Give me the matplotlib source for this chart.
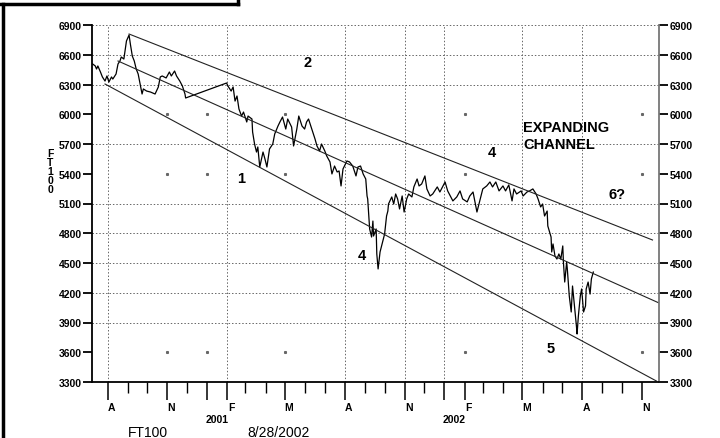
import numpy as np
import pandas as pd
import matplotlib
matplotlib.use("Agg")
import matplotlib.pyplot as plt
import matplotlib.dates as mdates
import matplotlib.transforms as mtrans
from matplotlib.lines import Line2D

plt.rcParams['font.family'] = ['Liberation Sans', 'DejaVu Sans']

# FT100 closes
dates = [
    "2000-07-09", "2000-07-13", "2000-07-15", "2000-07-17", "2000-07-21", "2000-07-24", "2000-07-28",
    "2000-07-31", "2000-08-03", "2000-08-07", "2000-08-09", "2000-08-14", "2000-08-17", "2000-08-20",
    "2000-08-22", "2000-08-26", "2000-08-30", "2000-09-03", "2000-09-05", "2000-09-08", "2000-09-11",
    "2000-09-14", "2000-09-17", "2000-09-20", "2000-09-23", "2000-09-25", "2000-09-30", "2000-10-06",
    "2000-10-13", "2000-10-18", "2000-10-21", "2000-10-24", "2000-10-30", "2000-11-04", "2000-11-07",
    "2000-11-12", "2000-11-15", "2000-11-20", "2000-11-24", "2000-11-28", "2000-11-29",
    "2001-01-31", "2001-02-02", "2001-02-07", "2001-02-10", "2001-02-13", "2001-02-16", "2001-02-19",
    "2001-02-23", "2001-02-26", "2001-03-03", "2001-03-05", "2001-03-11", "2001-03-12", "2001-03-15",
    "2001-03-18", "2001-03-20", "2001-03-23", "2001-03-28", "2001-03-31", "2001-04-03", "2001-04-07",
    "2001-04-12", "2001-04-15", "2001-04-20", "2001-04-23", "2001-04-27", "2001-05-02", "2001-05-05",
    "2001-05-11", "2001-05-14", "2001-05-19", "2001-05-22", "2001-05-27", "2001-05-31", "2001-06-03",
    "2001-06-06", "2001-06-11", "2001-06-16", "2001-06-19", "2001-06-23", "2001-06-26", "2001-07-01",
    "2001-07-04", "2001-07-09", "2001-07-12", "2001-07-16", "2001-07-20", "2001-07-23", "2001-07-26",
    "2001-07-29", "2001-08-04", "2001-08-08", "2001-08-13", "2001-08-18", "2001-08-21", "2001-08-25",
    "2001-08-29", "2001-09-02", "2001-09-04", "2001-09-05", "2001-09-08", "2001-09-11", "2001-09-13",
    "2001-09-14", "2001-09-18", "2001-09-19", "2001-09-21", "2001-09-24", "2001-09-28", "2001-10-01",
    "2001-10-04", "2001-10-06", "2001-10-07", "2001-10-12", "2001-10-15", "2001-10-18", "2001-10-21",
    "2001-10-24", "2001-10-28", "2001-10-31", "2001-11-04", "2001-11-07", "2001-11-12", "2001-11-15",
    "2001-11-20", "2001-11-23", "2001-11-27", "2001-12-02", "2001-12-05", "2001-12-10", "2001-12-14",
    "2001-12-21", "2001-12-25", "2002-01-02", "2002-01-06", "2002-01-14", "2002-01-20", "2002-01-25",
    "2002-01-29", "2002-02-05", "2002-02-09", "2002-02-14", "2002-02-20", "2002-02-25", "2002-03-01",
    "2002-03-07", "2002-03-12", "2002-03-16", "2002-03-21", "2002-03-26", "2002-04-01", "2002-04-05",
    "2002-04-10", "2002-04-15", "2002-04-18", "2002-04-22", "2002-04-29", "2002-05-02", "2002-05-08",
    "2002-05-12", "2002-05-17", "2002-05-22", "2002-05-25", "2002-05-29", "2002-06-01", "2002-06-04",
    "2002-06-08", "2002-06-09", "2002-06-14", "2002-06-15", "2002-06-17", "2002-06-20", "2002-06-23",
    "2002-06-26", "2002-06-29", "2002-07-02", "2002-07-03", "2002-07-05", "2002-07-08", "2002-07-09",
    "2002-07-12", "2002-07-15", "2002-07-17", "2002-07-20", "2002-07-23", "2002-07-24", "2002-07-26",
    "2002-07-29", "2002-07-31", "2002-08-03", "2002-08-06", "2002-08-07", "2002-08-10", "2002-08-13",
    "2002-08-15", "2002-08-18",
]
closes = [
    6507, 6487, 6456, 6487, 6426, 6376, 6335,
    6386, 6325, 6376, 6355, 6406, 6507, 6537,
    6577, 6557, 6739, 6799, 6708, 6587, 6537,
    6456, 6406, 6305, 6204, 6255, 6234, 6224,
    6204, 6275, 6376, 6386, 6366, 6426, 6386,
    6436, 6386, 6335, 6285, 6204, 6164,
    6315, 6285, 6234, 6275, 6133, 6184, 6053,
    5982, 6022, 5922, 5982, 5952, 5821, 5700,
    5619, 5670, 5468, 5619, 5549, 5468, 5650,
    5700, 5801, 5881, 5922, 5972, 5851, 5952,
    5871, 5680, 5851, 5982, 5881, 5851, 5922,
    5952, 5851, 5750, 5680, 5630, 5700, 5630,
    5579, 5519, 5398, 5478, 5418, 5428, 5277,
    5448, 5529, 5519, 5478, 5378, 5468, 5478,
    5398, 5347, 5176, 5146, 4843, 4762, 4923,
    4772, 4843, 4591, 4440, 4611, 4712, 4792,
    4974, 5024, 5095, 5166, 5095, 5196, 5146,
    5045, 5176, 5014, 5146, 5196, 5166, 5267,
    5347, 5277, 5297, 5378, 5247, 5176, 5196,
    5267, 5216, 5317, 5227, 5126, 5166, 5227,
    5146, 5116, 5176, 5216, 5014, 5146, 5247,
    5277, 5317, 5267, 5317, 5227, 5277, 5227,
    5287, 5126, 5247, 5196, 5227, 5176, 5216,
    5227, 5247, 5196, 5146, 5065, 5095, 4974,
    5024, 4873, 4762, 4611, 4692, 4571, 4540,
    4591, 4540, 4672, 4510, 4308, 4510, 4440,
    4168, 4006, 4268, 4067, 3865, 3784, 3966,
    4168, 4238, 4006, 4067, 4238, 4308, 4187,
    4339, 4409,
]

# channel lines (start date, start value, end date, end value)
upper_line = ["2000-09-03", 6809, "2002-11-17", 4732]
middle_line = ["2000-08-17", 6537, "2002-11-27", 4097]
lower_line = ["2000-07-28", 6305, "2002-11-23", 3310]

yticks = [3300, 3600, 3900, 4200, 4500, 4800, 5100, 5400, 5700, 6000, 6300, 6600, 6900]
grid_y = [3900, 4200, 4500, 4800, 5100, 5700, 6300, 6600, 6900]
sparse_y = [3600, 5400, 6000]
grid_x = ["2000-08-01", "2001-02-01", "2001-08-01", "2001-11-01", "2002-01-01", "2002-05-01", "2002-08-01"]
sparse_x = ["2000-11-01", "2001-01-01", "2001-05-01", "2002-02-01", "2002-11-01"]
quarter_ticks = ["2000-08-01", "2000-11-01", "2001-02-01", "2001-05-01", "2001-08-01",
                 "2001-11-01", "2002-02-01", "2002-05-01", "2002-08-01", "2002-11-01"]
quarter_labels = ["A", "N", "F", "M", "A", "N", "F", "M", "A", "N"]
year_ticks = ["2001-01-01", "2002-01-01"]
year_labels = ["2001", "2002"]

notes = [
    ("2", "2001-06-05", 6527),
    ("1", "2001-02-22", 5357),
    ("4", "2001-08-27", 4581),
    ("4", "2002-03-15", 5619),
    ("6?", "2002-09-24", 5196),
    ("5", "2002-06-14", 3643),
]

fig = plt.figure(figsize=(7.2, 4.39), dpi=100)
ax = fig.add_axes([92 / 720, 1 - 383 / 439, (659 - 92) / 720, (383 - 26) / 439])

d = pd.to_datetime(dates)
ax.plot(d, closes, color='black', lw=0.9)

for ln in (upper_line, middle_line, lower_line):
    ax.plot(pd.to_datetime([ln[0], ln[2]]), [ln[1], ln[3]], color='#222222', lw=0.8)

ax.set_xlim(pd.Timestamp("2000-07-08"), pd.Timestamp("2002-11-27"))
ax.set_ylim(3300, 6900)

# grid
for v in grid_y:
    ax.axhline(v, color='#666666', lw=0.7, ls=(0, (1.5, 2)), zorder=0)
for g in grid_x:
    ax.axvline(pd.Timestamp(g), color='#666666', lw=0.7, ls=(0, (1.5, 2)), zorder=0)
for g in sparse_x:
    for v in sparse_y:
        ax.plot(pd.Timestamp(g), v, marker='s', ms=1.2, color='#666666', zorder=0)

# spines
ax.spines['top'].set_visible(False)
ax.spines['left'].set_linewidth(1.3)
ax.spines['bottom'].set_linewidth(1.3)
ax.spines['right'].set_color('#777777')
ax.spines['right'].set_linewidth(1.3)

ax.set_yticks(yticks)
ax.set_yticklabels([str(v) for v in yticks], fontsize=7.5, fontweight='bold')
ax.tick_params(axis='y', which='major', left=True, right=True, labelleft=True, labelright=True,
               length=6.5, width=1.3, pad=1, direction='out')

major_pos = sorted(quarter_ticks + year_ticks)
labmap = dict(zip(quarter_ticks, quarter_labels))
ax.set_xticks(pd.to_datetime(major_pos))
ax.set_xticklabels([labmap.get(p, "") for p in major_pos], fontsize=7.5, fontweight='bold')
ax.xaxis.set_minor_locator(mdates.MonthLocator())
ax.tick_params(axis='x', which='major', length=13, width=1.1, pad=1.5, direction='out')
ax.tick_params(axis='x', which='minor', length=8, width=1.0, direction='out')
off = mtrans.ScaledTranslation(0.04, 0, fig.dpi_scale_trans)
for lbl in ax.get_xticklabels():
    lbl.set_transform(lbl.get_transform() + off)

for yt, yl in zip(year_ticks, year_labels):
    ax.text(pd.Timestamp(yt) + pd.Timedelta(days=15), -0.104, yl, transform=ax.get_xaxis_transform(),
            ha='center', va='center', fontsize=7.5, fontweight='bold')

# annotations
for txt, dt, v in notes:
    ax.text(pd.Timestamp(dt), v, txt, ha='center', va='center', fontsize=10.5, fontweight='bold')
ax.text(pd.Timestamp("2002-05-02"), 5871, "EXPANDING", ha='left', va='center', fontsize=10.5, fontweight='bold')
ax.text(pd.Timestamp("2002-05-02"), 5700, "CHANNEL", ha='left', va='center', fontsize=10.5, fontweight='bold')

fig.text(50 / 720, 1 - 172 / 439, "F\nT\n1\n0\n0", ha='center', va='center', fontsize=7.5,
         fontweight='bold', linespacing=0.85)
fig.text(148 / 720, 1 - 437 / 439, "FT100", ha='center', va='baseline', fontsize=10)
fig.text(279 / 720, 1 - 437 / 439, "8/28/2002", ha='center', va='baseline', fontsize=10)

# outer frame pieces
fig.add_artist(Line2D([3 / 720, 3 / 720], [0, 1 - 5 / 439], transform=fig.transFigure, color='black', lw=2.5))
fig.add_artist(Line2D([0, 238 / 720], [1 - 5 / 439, 1 - 5 / 439], transform=fig.transFigure, color='black', lw=2.5))
fig.add_artist(Line2D([238 / 720, 238 / 720], [1 - 5 / 439, 1], transform=fig.transFigure, color='black', lw=2.5))

fig.savefig('out.png', dpi=100)
